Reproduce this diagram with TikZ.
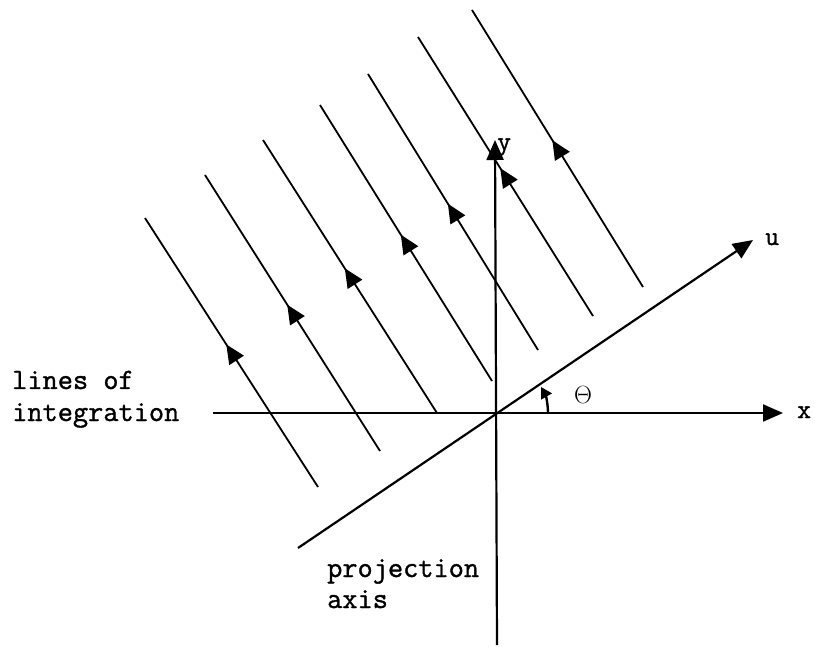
\documentclass[tikz,border=0pt]{standalone}
\usepackage{fontspec}
\newfontfamily\twfont{Latin Modern Mono}[FakeBold=1.2,AutoFakeBold=1.2]
\usetikzlibrary{arrows.meta,decorations.markings}
\begin{document}
\begin{tikzpicture}[x=1pt,y=-1pt,
  intline/.style={line width=1.8pt, postaction={decorate},
    decoration={markings, mark=at position 0.47 with {\arrowreversed{Triangle[length=19pt,width=17pt]}}}},
  axisarrow/.style={line width=2.2pt,-{Triangle[length=20pt,width=17pt]}},
  txt/.style={font=\fontsize{29.5}{32}\selectfont\twfont\bfseries, inner sep=0pt, anchor=base west},
  lbl/.style={font=\fontsize{27}{30}\selectfont\twfont\bfseries, inner sep=0pt, anchor=base west}
]
\useasboundingbox (0,0) rectangle (815,647);
% axes
\coordinate (O) at (496,413);
\coordinate (xs) at (213,413);
\coordinate (xe) at (783,413);
\coordinate (ys) at (497,645);
\coordinate (ye) at (495,140);
\coordinate (us) at (298,548);
\coordinate (ue) at (753,240);
\draw[axisarrow] (xs) -- (xe);
\draw[axisarrow] (ys) -- (ye);
\draw[axisarrow] (us) -- (ue);
% lines of integration
\coordinate (a1) at (145,218); \coordinate (b1) at (318,487);
\coordinate (a2) at (205,175); \coordinate (b2) at (380,451);
\coordinate (a3) at (263,140); \coordinate (b3) at (437,413);
\coordinate (a4) at (320,105); \coordinate (b4) at (492,381);
\coordinate (a5) at (368,74);  \coordinate (b5) at (538,350);
\coordinate (a6) at (418,37);  \coordinate (b6) at (593,316);
\coordinate (a7) at (472,10);  \coordinate (b7) at (643,287);
\foreach \i in {1,...,7} { \draw[intline] (a\i) -- (b\i); }
% angle
\coordinate (arcstart) at (548,413);
\draw[line width=2.4pt,-{Triangle[length=11pt,width=12pt]}] (arcstart) arc[start angle=0, end angle=-30, radius=52];
\node[font=\fontsize{24}{26}\selectfont, inner sep=0pt] (theta) at (583,395) {$\Theta$};
% labels
\node[lbl] (xl) at (797,418) {x};
\node[lbl] (ul) at (765,245) {u};
\node[lbl] (yl) at (497,150) {y};
\node[txt] (t1) at (12,389) {lines of};
\node[txt] (t2) at (12,421) {integration};
\node[txt] (t3) at (327,577) {projection};
\node[txt] (t4) at (327,608) {axis};
\end{tikzpicture}
\end{document}
